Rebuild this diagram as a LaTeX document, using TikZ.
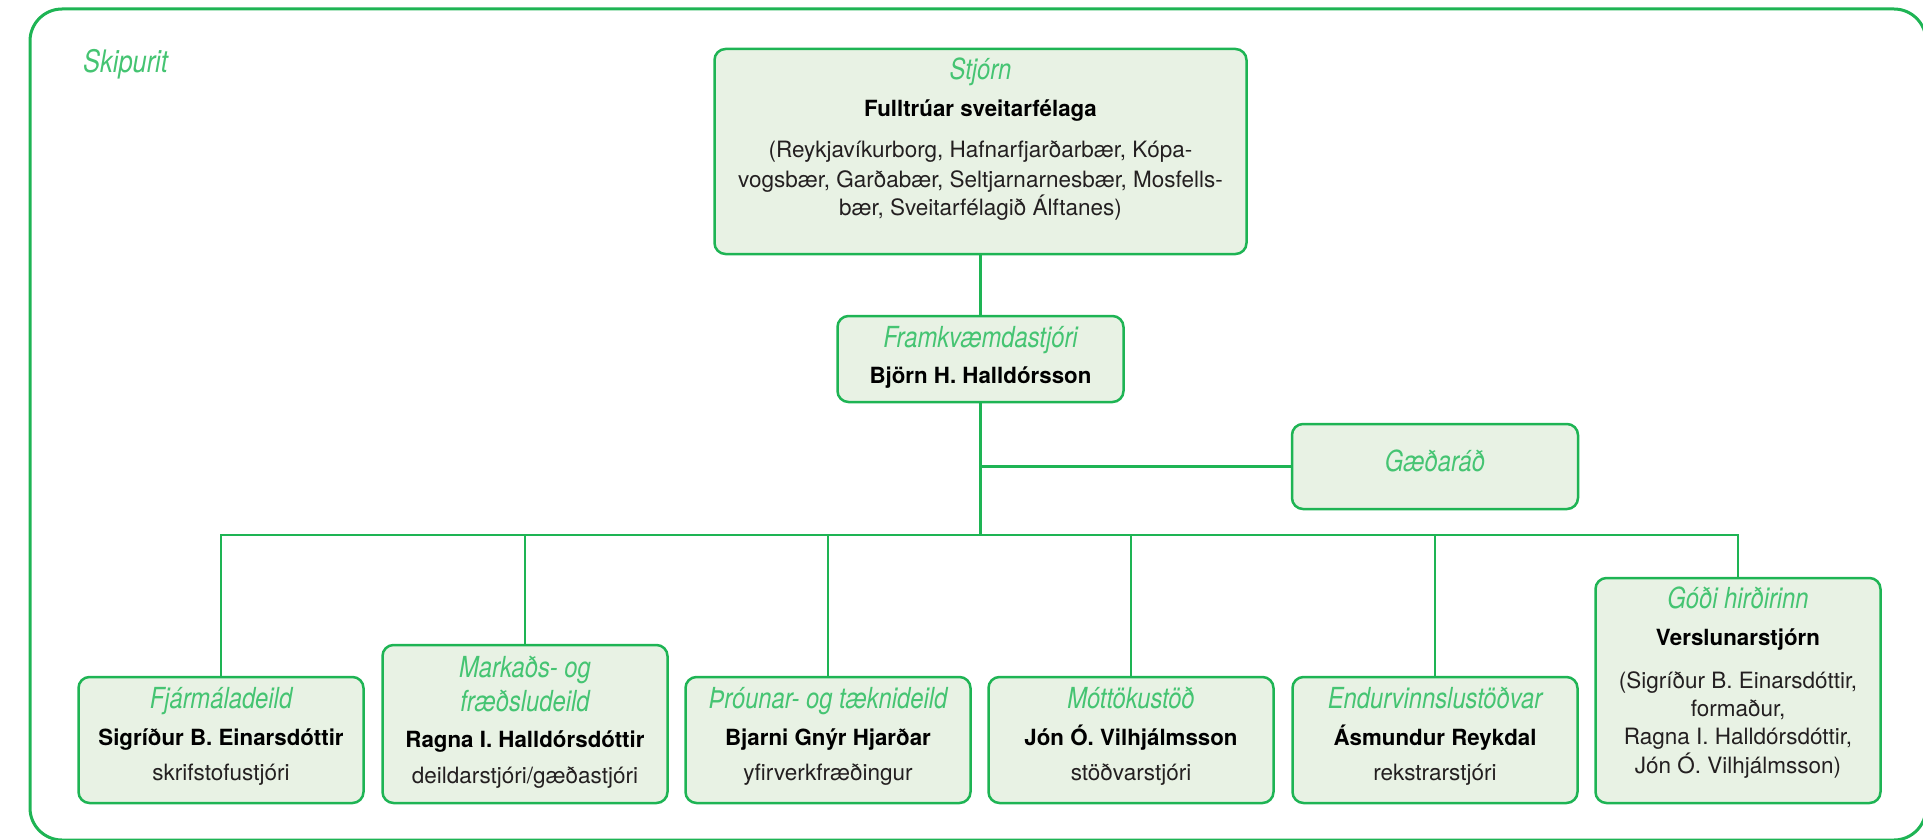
\documentclass[tikz,border=0pt]{standalone}
\usepackage{fontspec}
\setmainfont{TeX Gyre Heros}
\newfontfamily\condit[FakeStretch=0.82]{TeX Gyre Heros}
\definecolor{lineg}{HTML}{1EB454}
\definecolor{fillg}{HTML}{E8F2E4}
\definecolor{textg}{HTML}{45C472}
\definecolor{textd}{HTML}{231F20}
\tikzset{
  box/.style={draw=lineg, fill=fillg, line width=2.5pt, rounded corners=11pt, inner sep=0pt},
  conn/.style={draw=lineg, line width=2.5pt},
  frame/.style={draw=lineg, line width=3pt, rounded corners=32pt},
  hd/.style={anchor=base, inner sep=0pt, text=textg, font=\condit\itshape\fontsize{29pt}{29pt}\selectfont},
  nm/.style={anchor=base, inner sep=0pt, text=black, font=\bfseries\fontsize{22.3pt}{22.3pt}\selectfont},
  rl/.style={anchor=base, inner sep=0pt, text=textd, font=\fontsize{22.5pt}{22.5pt}\selectfont},
  bot/.style={box, minimum width=285pt},
}
\begin{document}
\begin{tikzpicture}[x=1pt,y=-1pt]
\useasboundingbox (0,0) rectangle (1923,840);
\clip (0,0) rectangle (1923,840);
\draw[frame] (30,9) rectangle (1926,840);
\node[hd, anchor=base west, font=\condit\itshape\fontsize{31pt}{31pt}\selectfont] (title) at (83,73) {Skipurit};

% boxes
\node[box, minimum width=532pt, minimum height=205pt] (stj) at (980.5,151.5) {};
\node[box, minimum width=286pt, minimum height=86pt] (fra) at (980.5,359) {};
\node[box, minimum width=286pt, minimum height=85pt] (gae) at (1435,466.5) {};
\node[bot, minimum height=126pt] (fin) at (221,740) {};
\node[bot, minimum height=158pt] (mar) at (525,724) {};
\node[bot, minimum height=126pt] (thr) at (828,740) {};
\node[bot, minimum height=126pt] (mot) at (1131,740) {};
\node[bot, minimum height=126pt] (end) at (1435,740) {};
\node[bot, minimum height=225pt] (god) at (1738,690.5) {};

% connectors
\coordinate (bus) at (980.5,535);
\draw[conn] (stj.south) -- (fra.north);
\draw[conn] (fra.south) -- (bus);
\draw[conn] (gae.west) -- (gae.west -| fra.south);
\draw[conn] (fin.north) |- (bus) -| (god.north);
\draw[conn] (mar.north) -- (mar.north |- bus);
\draw[conn] (thr.north) -- (thr.north |- bus);
\draw[conn] (mot.north) -- (mot.north |- bus);
\draw[conn] (end.north) -- (end.north |- bus);

% texts: Stjórn
\node[hd] (s1) at (980.5,80) {Stjórn};
\node[nm] (s2) at (980.5,117) {Fulltrúar sveitarfélaga};
\node[rl] (s3) at (980.5,158) {(Reykjavíkurborg, Hafnarfjarðarbær, Kópa-};
\node[rl] (s4) at (980.5,187) {vogsbær, Garðabær, Seltjarnarnesbær, Mosfells-};
\node[rl] (s5) at (980.5,215) {bær, Sveitarfélagið Álftanes)};
% Framkvæmdastjóri
\node[hd] (f1) at (980.5,347) {Framkvæmdastjóri};
\node[nm] (f2) at (980.5,383) {Björn H. Halldórsson};
% Gæðaráð
\node[hd] (g1) at (1435,471) {Gæðaráð};
% Fjármáladeild
\node[hd] (a1) at (221,708) {Fjármáladeild};
\node[nm] (a2) at (221,745) {Sigríður B. Einarsdóttir};
\node[rl] (a3) at (221,780) {skrifstofustjóri};
% Markaðs
\node[hd] (b1) at (525,677) {Markaðs- og};
\node[hd] (b2) at (525,711) {fræðsludeild};
\node[nm] (b3) at (525,747) {Ragna I. Halldórsdóttir};
\node[rl] (b4) at (525,783) {deildarstjóri/gæðastjóri};
% Þróunar
\node[hd] (c1) at (828,708) {Þróunar- og tæknideild};
\node[nm] (c2) at (828,745) {Bjarni Gnýr Hjarðar};
\node[rl] (c3) at (828,780) {yfirverkfræðingur};
% Móttökustöð
\node[hd] (d1) at (1131,708) {Móttökustöð};
\node[nm] (d2) at (1131,745) {Jón Ó. Vilhjálmsson};
\node[rl] (d3) at (1131,780) {stöðvarstjóri};
% Endurvinnslustöðvar
\node[hd] (e1) at (1435,708) {Endurvinnslustöðvar};
\node[nm] (e2) at (1435,745) {Ásmundur Reykdal};
\node[rl] (e3) at (1435,780) {rekstrarstjóri};
% Góði hirðirinn
\node[hd] (h1) at (1738,608) {Góði hirðirinn};
\node[nm] (h2) at (1738,645) {Verslunarstjórn};
\node[rl] (h3) at (1738,688) {(Sigríður B. Einarsdóttir,};
\node[rl] (h4) at (1738,716) {formaður,};
\node[rl] (h5) at (1738,744) {Ragna I. Halldórsdóttir,};
\node[rl] (h6) at (1738,773) {Jón Ó. Vilhjálmsson)};
\end{tikzpicture}
\end{document}
